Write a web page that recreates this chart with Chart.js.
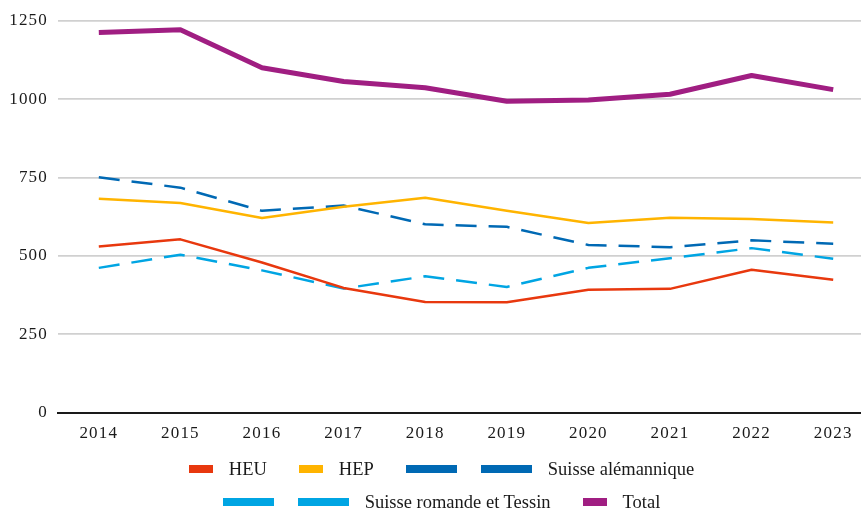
<!DOCTYPE html>
<html lang="fr">
<head>
<meta charset="UTF-8">
<title>Effectifs</title>
<script src="https://cdn.jsdelivr.net/npm/chart.js"></script>
<style>
    html, body { margin: 0; padding: 0; background: #fff; overflow: hidden; }
    body { width: 861px; height: 508px; position: relative; font-family: 'Liberation Serif', 'Times New Roman', serif; }
    .chart-box { position: absolute; left: 0; top: 0; width: 874px; height: 455px; }
    .legend-row { position: absolute; left: 0; width: 883px; height: 34px; display: flex; justify-content: center; align-items: center; font-size: 18.5px; color: #1a1a1a; }
    .legend-item { display: flex; align-items: center; margin: 0 16px; }
    .legend-item .sym { display: inline-block; height: 8px; }
    .legend-item .txt { margin-left: 16px; white-space: nowrap; }
</style>
</head>
<body>
<div class="chart-box"><canvas id="chart"></canvas></div>
<div class="legend-row" id="row1" style="top:452px"></div>
<div class="legend-row" id="row2" style="top:485px"></div>

<script>
    const years = ['2014', '2015', '2016', '2017', '2018', '2019', '2020', '2021', '2022', '2023'];
    const heu = [530, 553, 479, 398, 353, 352, 392, 395, 456, 424];
    const hep = [683, 669, 621, 657, 686, 644, 605, 622, 618, 607];
    const suisseAlemannique = [751, 718, 644, 661, 601, 593, 535, 528, 550, 539];
    const suisseRomande = [462, 504, 454, 396, 435, 401, 462, 493, 525, 491];
    const total = [1213, 1222, 1101, 1057, 1037, 994, 998, 1016, 1076, 1031];
    const yTicks = [0, 250, 500, 750, 1000, 1250];

    Chart.defaults.font.family = 'Liberation Serif';
    const tickFont = { family: 'Liberation Serif', size: 17 };

    // canvas text in the original is a little wider than plain Times
    const spacing = {
        id: 'spacing',
        beforeUpdate(chart) { chart.ctx.letterSpacing = '1.2px'; },
        beforeDraw(chart) { chart.ctx.letterSpacing = '1.2px'; }
    };

    const chart = new Chart(document.getElementById('chart'), {
        type: 'line',
        data: {
            labels: years,
            datasets: [
                { label: 'HEU', data: heu, borderColor: 'rgb(232, 56, 14)', borderWidth: 2.5, order: 2 },
                { label: 'HEP', data: hep, borderColor: 'rgb(255, 180, 0)', borderWidth: 2.5, order: 3 },
                { label: 'Suisse alémannique', data: suisseAlemannique, borderColor: 'rgb(0, 105, 180)', borderWidth: 2.5, borderDash: [21, 12], order: 4 },
                { label: 'Suisse romande et Tessin', data: suisseRomande, borderColor: 'rgb(0, 165, 227)', borderWidth: 2.5, borderDash: [21, 12], order: 5 },
                { label: 'Total', data: total, borderColor: 'rgb(160, 30, 130)', borderWidth: 5, order: 1 }
            ]
        },
        options: {
            responsive: true,
            maintainAspectRatio: false,
            animation: false,
            layout: { padding: { left: 10, top: 21, right: 0, bottom: 0 } },
            elements: { point: { radius: 0 }, line: { tension: 0, borderJoinStyle: 'round' } },
            plugins: { legend: { display: false }, tooltip: { enabled: false } },
            scales: {
                x: {
                    offset: true,
                    grid: { display: false, drawTicks: false },
                    border: { display: true, color: '#1a1a1a', width: 2 },
                    ticks: { color: '#1a1a1a', font: tickFont, padding: 11, maxRotation: 0 }
                },
                y: {
                    min: 0,
                    max: 1250,
                    afterFit(scale) { scale.width = 48; },
                    afterBuildTicks(scale) { scale.ticks = yTicks.map(v => ({ value: v })); },
                    grid: {
                        drawTicks: false,
                        color: ctx => ctx.tick && ctx.tick.value === 0 ? '#1a1a1a' : '#d0d0d0',
                        lineWidth: ctx => ctx.tick && ctx.tick.value === 0 ? 2 : 1.8
                    },
                    border: { display: false },
                    ticks: { color: '#1a1a1a', font: tickFont, padding: 10, callback: v => String(v) }
                }
            }
        },
        plugins: [spacing]
    });

    // legend built from the datasets
    const rows = [[0, 1, 2], [3, 4]];
    rows.forEach((idx, r) => {
        const row = document.getElementById('row' + (r + 1));
        idx.forEach(i => {
            const ds = chart.data.datasets[i];
            const item = document.createElement('div');
            item.className = 'legend-item';
            const sym = document.createElement('span');
            sym.className = 'sym';
            if (ds.borderDash) {
                sym.style.width = '126px';
                sym.style.background = `linear-gradient(to right, ${ds.borderColor} 0 51px, transparent 51px 75px, ${ds.borderColor} 75px 126px)`;
            } else {
                sym.style.width = '24px';
                sym.style.background = ds.borderColor;
            }
            const txt = document.createElement('span');
            txt.className = 'txt';
            txt.textContent = ds.label;
            item.appendChild(sym);
            item.appendChild(txt);
            row.appendChild(item);
        });
    });
</script>
</body>
</html>
